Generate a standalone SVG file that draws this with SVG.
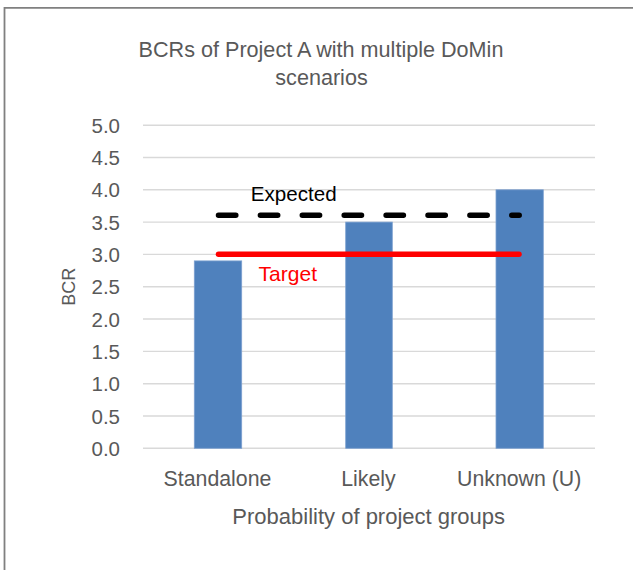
<svg xmlns="http://www.w3.org/2000/svg" width="633" height="570" viewBox="0 0 633 570">
<style>
text{font-family:"Liberation Sans",Arial,sans-serif;fill:#595959}
.tick{font-size:20.5px;text-anchor:end}
.cat{font-size:21.3px;text-anchor:middle}
.grid{stroke:#d9d9d9;stroke-width:1.4}
.bar{fill:#4f81bd;stroke:#7ca0d0;stroke-width:0.8}
</style>
<rect x="0" y="0" width="633" height="570" fill="#ffffff"/>
<path d="M4.5,570 V7.8 H633" fill="none" stroke="#808080" stroke-width="1.8"/>
<g id="title">
<text x="321" y="56.7" font-size="21.6" text-anchor="middle">BCRs of Project A with multiple DoMin</text>
<text x="321.5" y="85" font-size="21.6" text-anchor="middle">scenarios</text>
</g>
<g id="gridlines">
<line class="grid" x1="143" y1="125.2" x2="595" y2="125.2"/>
<line class="grid" x1="143" y1="157.5" x2="595" y2="157.5"/>
<line class="grid" x1="143" y1="189.8" x2="595" y2="189.8"/>
<line class="grid" x1="143" y1="222.1" x2="595" y2="222.1"/>
<line class="grid" x1="143" y1="254.4" x2="595" y2="254.4"/>
<line class="grid" x1="143" y1="286.7" x2="595" y2="286.7"/>
<line class="grid" x1="143" y1="319" x2="595" y2="319"/>
<line class="grid" x1="143" y1="351.4" x2="595" y2="351.4"/>
<line class="grid" x1="143" y1="383.7" x2="595" y2="383.7"/>
<line class="grid" x1="143" y1="416" x2="595" y2="416"/>
<line class="grid" x1="143" y1="448.3" x2="595" y2="448.3"/>
</g>
<g id="y-axis-labels">
<text class="tick" x="120" y="132.7">5.0</text>
<text class="tick" x="120" y="165">4.5</text>
<text class="tick" x="120" y="197.3">4.0</text>
<text class="tick" x="120" y="229.6">3.5</text>
<text class="tick" x="120" y="261.9">3.0</text>
<text class="tick" x="120" y="294.2">2.5</text>
<text class="tick" x="120" y="326.5">2.0</text>
<text class="tick" x="120" y="358.9">1.5</text>
<text class="tick" x="120" y="391.2">1.0</text>
<text class="tick" x="120" y="423.5">0.5</text>
<text class="tick" x="120" y="455.8">0.0</text>
</g>
<g id="y-axis-title">
<text x="75" y="286.7" font-size="18" text-anchor="middle" transform="rotate(-90 75 286.7)">BCR</text>
</g>
<g id="bar-standalone"><rect class="bar" x="194.3" y="260.9" width="47.4" height="187.4"/></g>
<g id="bar-likely"><rect class="bar" x="345.7" y="222.1" width="46.6" height="226.2"/></g>
<g id="bar-unknown"><rect class="bar" x="496" y="189.8" width="47.3" height="258.5"/></g>
<g id="connectors">
<line id="expected-line" x1="218.5" y1="215.3" x2="519.2" y2="215.3" stroke="#000000" stroke-width="5.5" stroke-linecap="round" stroke-dasharray="17.3 24.6"/>
<line id="target-line" x1="218.5" y1="254.2" x2="519" y2="254.2" stroke="#ff0000" stroke-width="5.5" stroke-linecap="round"/>
</g>
<g id="label-expected"><text x="293.7" y="200.7" font-size="20.6" text-anchor="middle" style="fill:#000000">Expected</text></g>
<g id="label-target"><text x="287.8" y="281" font-size="21" text-anchor="middle" style="fill:#ff0000">Target</text></g>
<g id="x-axis-labels">
<text class="cat" x="217.5" y="486">Standalone</text>
<text class="cat" x="368.5" y="486">Likely</text>
<text class="cat" x="519.2" y="486">Unknown (U)</text>
</g>
<g id="x-axis-title">
<text x="368.7" y="524" font-size="22" text-anchor="middle">Probability of project groups</text>
</g>
</svg>
